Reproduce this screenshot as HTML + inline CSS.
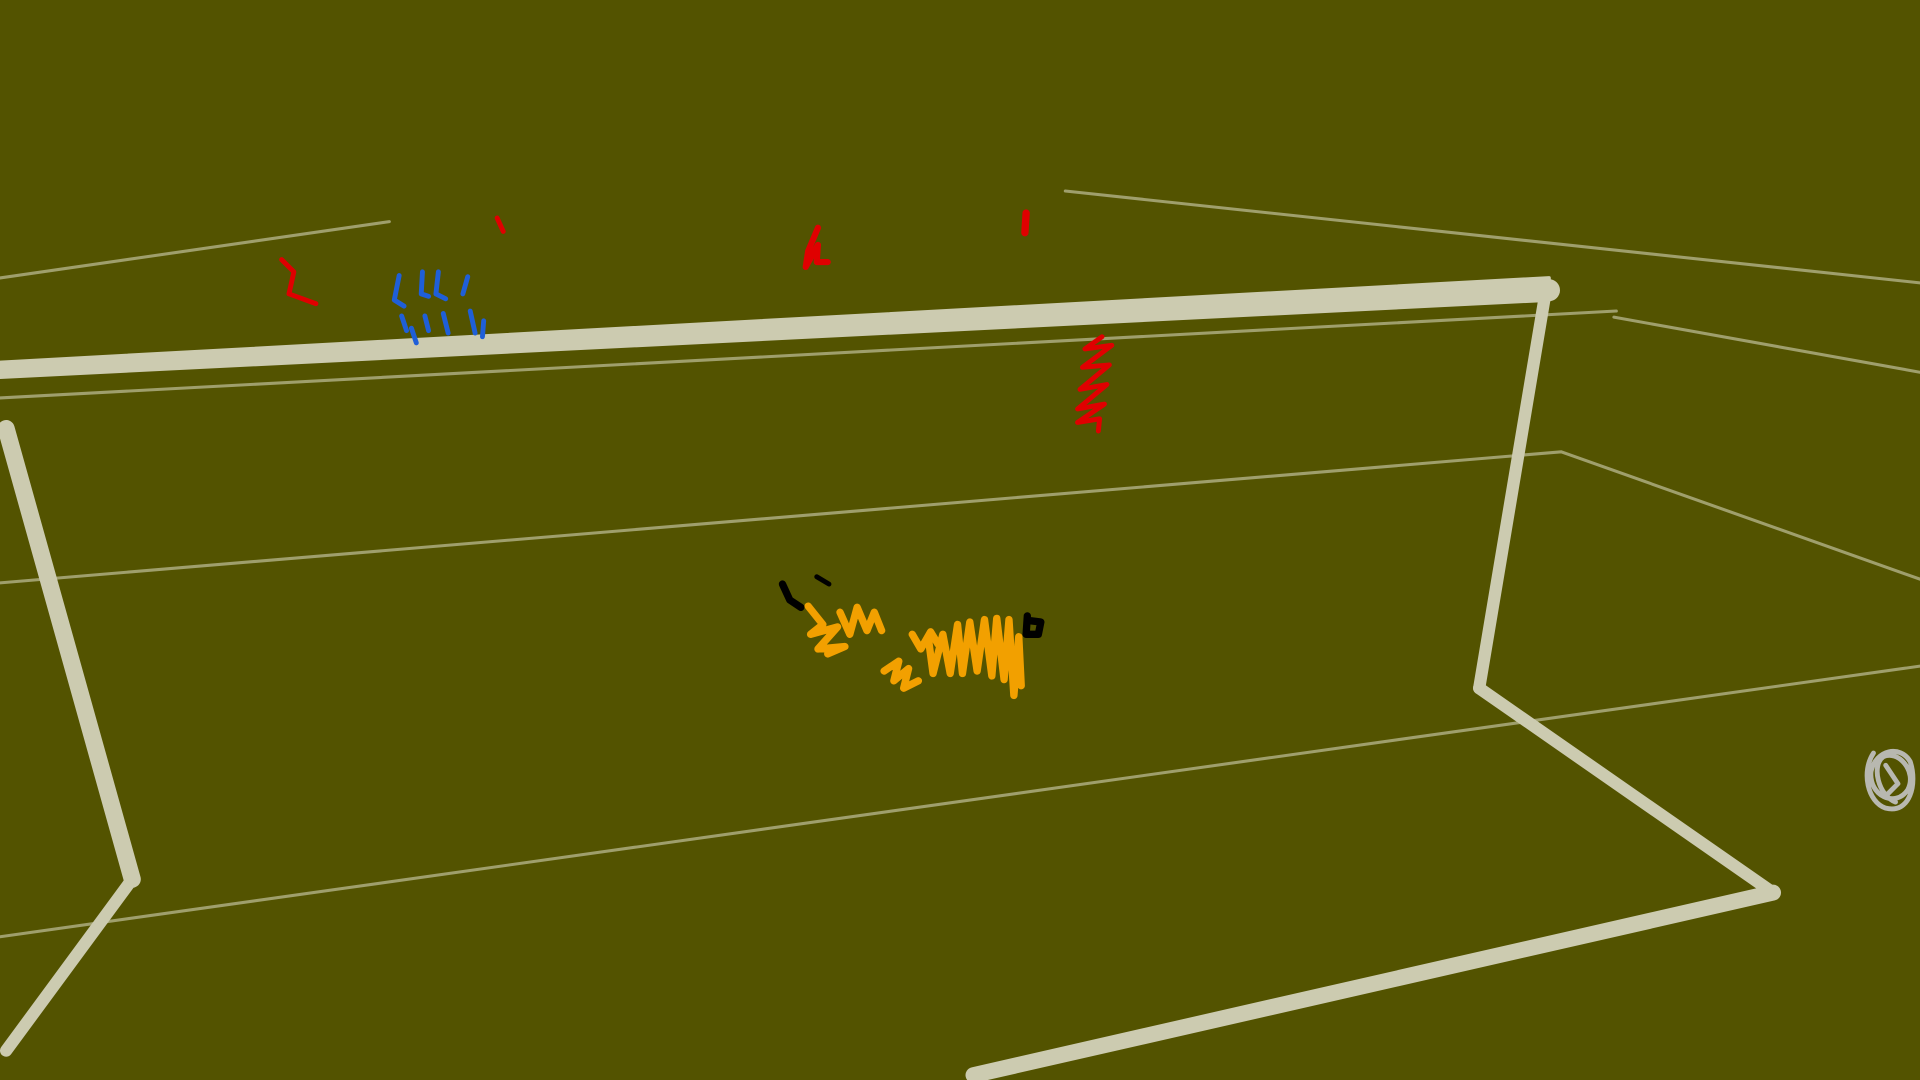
<!DOCTYPE html>
<html><head><meta charset="utf-8"><style>
html,body{margin:0;padding:0;background:#535300;overflow:hidden}
svg{display:block}
</style></head><body>
<svg width="1920" height="1080" viewBox="0 0 1568 882" preserveAspectRatio="none" xmlns="http://www.w3.org/2000/svg">
<rect x="0" y="0" width="1568" height="882" fill="#535300"/>
<g stroke="#d2d2b4" stroke-opacity="0.6" stroke-width="2.5" fill="none" stroke-linecap="round">
<line x1="0" y1="227" x2="318" y2="181"/>
<line x1="870" y1="156" x2="1568" y2="231"/>
<line x1="0" y1="325" x2="1320" y2="254"/>
<line x1="1318" y1="259" x2="1568" y2="304"/>
<polyline points="0,476 1275,369 1568,473"/>
<line x1="0" y1="765" x2="1568" y2="544"/>
</g>
<g stroke="#cccbb0" fill="none" stroke-linecap="round" stroke-linejoin="round">
<path d="M0,296 L1265,227 L1265,245 L0,308 Z" fill="#cccbb0" stroke-width="3"/>
<circle cx="1265" cy="237" r="9" fill="#cccbb0" stroke="none"/>
<line x1="1262" y1="240" x2="1208" y2="562" stroke-width="10"/>
<line x1="1208" y1="562" x2="1448" y2="729" stroke-width="10"/>
<line x1="1448" y1="729" x2="795" y2="878" stroke-width="13"/>
<line x1="5" y1="350" x2="108" y2="718" stroke-width="14"/>
<line x1="108" y1="718" x2="5" y2="858" stroke-width="10"/>
</g>
<g fill="none" stroke-linecap="round" stroke-linejoin="round">
<path stroke="#1f5fd8" stroke-width="4" d="M326,225 L322,245 L330,250 M328,258 L332,270 M345,222 L344,240 L350,242 M347,258 L350,270 M358,222 L356,240 L364,244 M362,256 L366,272 M382,226 L378,240 M384,254 L388,272 M395,262 L394,275 M336,268 L340,280"/>
<path stroke="#e00000" stroke-width="4" d="M230,212 L240,222 L236,240 L258,248"/>
<path stroke="#e00000" stroke-width="4" d="M406,178 L411,189"/>
<path stroke="#e00000" stroke-width="5" d="M668,186 L660,205 L658,218 L668,200 L667,214 L676,214"/>
<path stroke="#e00000" stroke-width="6" d="M838,174 L837,190"/>
<path stroke="#e00000" stroke-width="4" d="M900,275 L886,285 L908,282 L884,300 L906,298 L882,318 L904,314 L880,334 L902,330 L880,345 L898,342 L897,352"/>
<path stroke="#f2a000" stroke-width="6" d="M660,495 L672,510 L662,518 L684,512 L668,530 L690,528 L676,534 M686,500 L694,518 L700,496 L708,515 L714,500 L720,515 M745,518 L752,530 L760,516 L766,526 M722,548 L734,540 L730,556 L742,546 L738,562 L750,556 M758,520 L762,550 L770,518 L776,550 L782,510 L786,550 L792,508 L798,548 L804,506 L810,552 L814,505 L820,555 L824,506 L828,568 L832,520 L834,560"/>
<path stroke="#000" stroke-width="6" d="M639,477 L645,490 L654,496"/>
<path stroke="#000" stroke-width="4" d="M667,471 L677,477"/>
<path stroke="#000" stroke-width="6" d="M839,503 L838,518 L848,518 L850,508 L842,507"/>
<path stroke="#b8b8b0" stroke-width="4" d="M1530,615 C1520,630 1525,655 1540,660 C1560,665 1566,640 1560,622 C1552,608 1532,612 1528,630 C1526,650 1548,660 1558,645 C1566,630 1550,612 1538,618 C1528,625 1534,650 1548,655 M1540,625 L1550,640 L1542,648"/>
</g>
</svg>
</body></html>
